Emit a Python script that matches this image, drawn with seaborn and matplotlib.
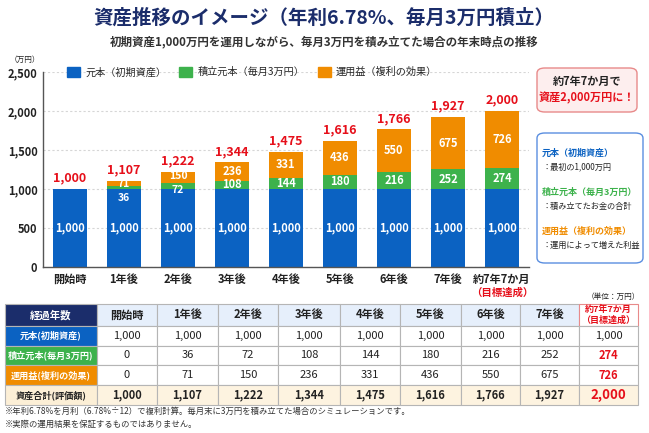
import matplotlib
matplotlib.use("Agg")
import matplotlib.pyplot as plt
from matplotlib.patches import Patch, FancyBboxPatch
import seaborn as sns
import pandas as pd

# --- data (万円) ---
periods = ['開始時', '1年後', '2年後', '3年後', '4年後', '5年後', '6年後', '7年後', '約7年7か月']
principal = [1000, 1000, 1000, 1000, 1000, 1000, 1000, 1000, 1000]
savings = [0, 36, 72, 108, 144, 180, 216, 252, 274]
returns = [0, 71, 150, 236, 331, 436, 550, 675, 726]
totals = [1000, 1107, 1222, 1344, 1475, 1616, 1766, 1927, 2000]
legend_labels = ['元本（初期資産）', '積立元本（毎月3万円）', '運用益（複利の効果）']
row_labels = ['元本(初期資産)', '積立元本(毎月3万円)', '運用益(複利の効果)', '資産合計(評価額)']

BLUE = '#0b62c2'
GREEN = '#3db24c'
ORANGE = '#f08c00'
RED = '#e60f1a'
NAVY = '#1b2d6b'
DARK = '#222222'

sns.set_theme(style='white')
plt.rcParams['font.family'] = ['Noto Sans CJK JP', 'DejaVu Sans']

W, H = 649, 433
fig = plt.figure(figsize=(W / 100, H / 100), dpi=100)


def fx(x):
    return x / W


def fy(y):
    return 1 - y / H


fig.text(fx(324), fy(18), '資産推移のイメージ（年利6.78%、毎月3万円積立）',
         ha='center', va='center', fontsize=14, fontweight='bold', color=NAVY)
fig.text(fx(324), fy(42), '初期資産1,000万円を運用しながら、毎月3万円を積み立てた場合の年末時点の推移',
         ha='center', va='center', fontsize=8.3, fontweight='bold', color='#333333')

# --- stacked bar chart ---
df = pd.DataFrame({
    'period': periods,
    'principal': principal,
    'with_savings': [p + s for p, s in zip(principal, savings)],
    'total': [p + s + r for p, s, r in zip(principal, savings, returns)],
})

ax = fig.add_axes([fx(43), 1 - 267 / H, (529 - 43) / W, (267 - 72) / H])
sns.barplot(data=df, x='period', y='total', color=ORANGE, saturation=1, width=0.63, linewidth=0, ax=ax)
sns.barplot(data=df, x='period', y='with_savings', color=GREEN, saturation=1, width=0.63, linewidth=0, ax=ax)
sns.barplot(data=df, x='period', y='principal', color=BLUE, saturation=1, width=0.63, linewidth=0, ax=ax)

ax.set_ylim(0, 2500)
ax.set_xlim(-0.5, 8.5)
ax.set_yticks(range(0, 2501, 500))
ax.set_yticklabels([f'{v:,}' for v in range(0, 2501, 500)])
ax.yaxis.grid(True, linestyle=(0, (2, 2)), color='#d6d6d6', linewidth=0.8)
ax.set_axisbelow(True)
ax.set_xlabel('')
ax.set_ylabel('')
ax.tick_params(axis='both', length=0, labelsize=8, colors=DARK, pad=4)
for lbl in ax.get_xticklabels() + ax.get_yticklabels():
    lbl.set_fontweight('bold')
for side in ['top', 'right']:
    ax.spines[side].set_visible(False)
for side in ['left', 'bottom']:
    ax.spines[side].set_color('#555555')
    ax.spines[side].set_linewidth(1)

for i in range(len(periods)):
    p, s, r, t = principal[i], savings[i], returns[i], totals[i]
    ax.text(i, p / 2, f'{p:,}', ha='center', va='center', color='white', fontsize=8, fontweight='bold')
    small = s < 100
    if s > 0:
        if s < 60:
            sy = p - 110
        elif s < 100:
            sy = p - 10
        else:
            sy = p + s / 2
        ax.text(i, sy, f'{s:,}', ha='center', va='center', color='white',
                fontsize=7.5 if small else 8, fontweight='bold')
    if r > 0:
        ry = p + s + r / 2
        if r < 90:
            ry = p + s + r / 2 - 10
        elif r < 160:
            ry = p + s + r / 2 + 18
        ax.text(i, ry, f'{r:,}', ha='center', va='center', color='white',
                fontsize=7.5 if small else 8, fontweight='bold')
    ax.text(i, t + 55, f'{t:,}', ha='center', va='bottom', color=RED, fontsize=9, fontweight='bold')

ax.text(8, -0.13, '（目標達成）', transform=ax.get_xaxis_transform(), ha='center', va='center',
        color=RED, fontsize=7.5, fontweight='bold')
fig.text(fx(25), fy(60), '（万円）', ha='center', va='center', fontsize=5.5, color=DARK)

handles = [Patch(color=c) for c in (BLUE, GREEN, ORANGE)]
ax.legend(handles, legend_labels, loc='center', bbox_to_anchor=(0.43, 1.0), ncol=3, frameon=False,
          fontsize=7.3, handlelength=1.3, handleheight=1.2, columnspacing=1.3, handletextpad=0.5)

# --- right side boxes ---
fig.patches.append(FancyBboxPatch((fx(537), fy(112)), fx(100), (112 - 68) / H,
                                  boxstyle='round,pad=0,rounding_size=0.012', transform=fig.transFigure,
                                  facecolor='#fdeeee', edgecolor='#e88a8a', linewidth=1))
fig.text(fx(587), fy(81), '約7年7か月で', ha='center', va='center', fontsize=8, fontweight='bold', color=DARK)
fig.text(fx(587), fy(98), '資産2,000万円に！', ha='center', va='center', fontsize=8, fontweight='bold', color=RED)

fig.patches.append(FancyBboxPatch((fx(537), fy(263)), fx(106), (263 - 133) / H,
                                  boxstyle='round,pad=0,rounding_size=0.012', transform=fig.transFigure,
                                  facecolor='white', edgecolor='#5a8ee0', linewidth=1))
desc = ['：最初の1,000万円', '：積み立てたお金の合計', '：運用によって増えた利益']
for k, (lab, d, c) in enumerate(zip(legend_labels, desc, (BLUE, GREEN, ORANGE))):
    y0 = 153 + k * 39
    fig.text(fx(542), fy(y0), lab, ha='left', va='center', fontsize=6.5, fontweight='bold', color=c)
    fig.text(fx(542), fy(y0 + 14), d, ha='left', va='center', fontsize=5.9, color=DARK)

# --- table ---
fig.text(fx(613), fy(297), '（単位：万円）', ha='center', va='center', fontsize=5.5, color=DARK)
header = ['経過年数'] + periods[:-1] + ['約7年7か月\n（目標達成）']
rows = [
    [row_labels[0]] + [f'{v:,}' for v in principal],
    [row_labels[1]] + [f'{v:,}' for v in savings],
    [row_labels[2]] + [f'{v:,}' for v in returns],
    [row_labels[3]] + [f'{v:,}' for v in totals],
]
col_px = [92, 60, 61, 60, 62, 60, 61, 59, 59, 59]
tot_px = sum(col_px)
ax_t = fig.add_axes([fx(5), 1 - 405 / H, tot_px / W, (405 - 304) / H])
ax_t.axis('off')
tbl = ax_t.table(cellText=[header] + rows, colWidths=[c / tot_px for c in col_px],
                 cellLoc='center', bbox=[0, 0, 1, 1])
tbl.auto_set_font_size(False)
tbl.set_fontsize(8)
label_bg = [NAVY, BLUE, GREEN, ORANGE, '#fcefd6']
for (r, c), cell in tbl.get_celld().items():
    cell.set_edgecolor('#b5b5b5')
    cell.set_linewidth(0.8)
    cell.set_height(22 if r == 0 else 20)
    txt = cell.get_text()
    txt.set_color(DARK)
    if c == 0:
        cell.set_facecolor(label_bg[r])
        txt.set_fontweight('bold')
        txt.set_color('white' if r < 4 else DARK)
        txt.set_fontsize(7.5 if r == 0 else 6.6)
    elif r == 0:
        cell.set_facecolor('#e6effb' if c < 9 else 'white')
        txt.set_fontweight('bold')
        if c == 9:
            txt.set_color(RED)
            txt.set_fontsize(6.5)
            cell.set_edgecolor('#e88a8a')
    elif r == 4:
        cell.set_facecolor('#fdf3e0')
        txt.set_fontweight('bold')
        if c == 9:
            txt.set_color(RED)
            txt.set_fontsize(9.5)
    else:
        cell.set_facecolor('white')
        if c == 9 and r in (2, 3):
            txt.set_color(RED)
            txt.set_fontweight('bold')

fig.text(fx(5), fy(411), '※年利6.78%を月利（6.78%÷12）で複利計算。毎月末に3万円を積み立てた場合のシミュレーションです。',
         ha='left', va='center', fontsize=6, color='#333333')
fig.text(fx(5), fy(424), '※実際の運用結果を保証するものではありません。',
         ha='left', va='center', fontsize=6, color='#333333')

fig.savefig('out.png', dpi=100)
